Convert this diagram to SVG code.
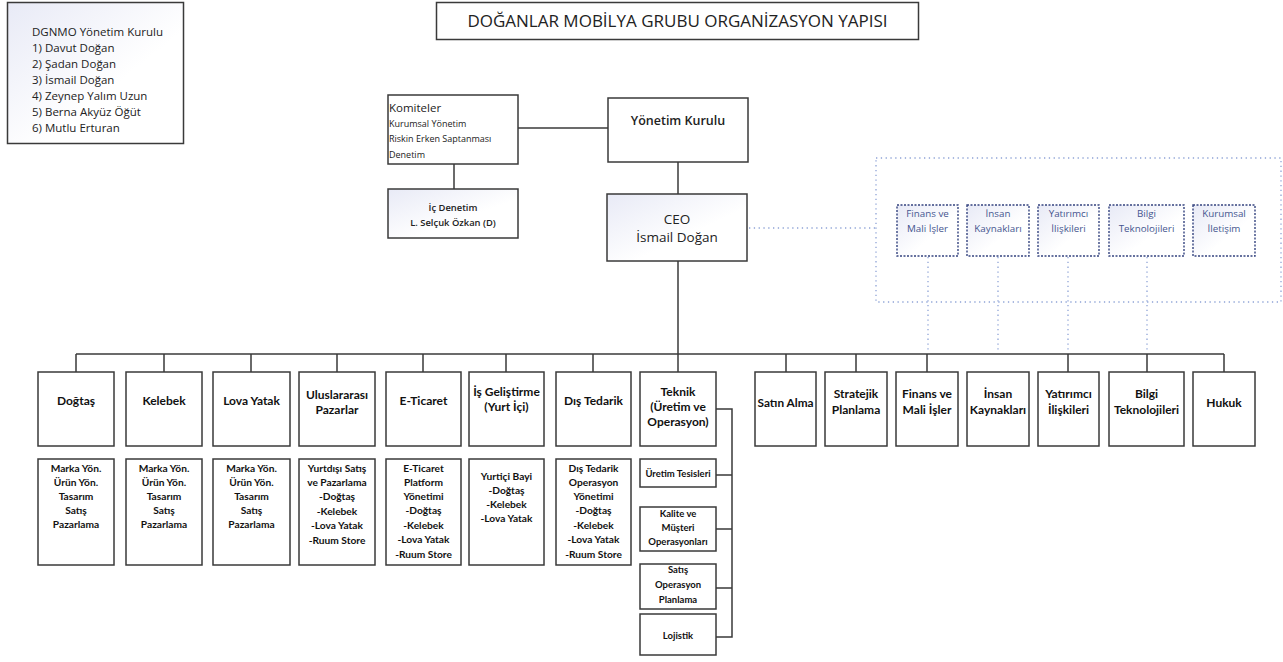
<svg xmlns="http://www.w3.org/2000/svg" width="1283" height="662" viewBox="0 0 1283 662">
<defs>
<linearGradient id="g" x1="0" y1="0" x2="1" y2="1">
<stop offset="0" stop-color="#e8eaf6"/>
<stop offset="0.6" stop-color="#ffffff"/>
</linearGradient>
<style>
.b{fill:#fff;stroke:#3a3a3a;stroke-width:1.5}
.bg{fill:url(#g);stroke:#3a3a3a;stroke-width:1.5}
.db{fill:url(#g);stroke:#34437f;stroke-width:1.4;stroke-dasharray:2 1.5}
.ln{stroke:#3a3a3a;stroke-width:1.5;fill:none}
.dl{stroke:#8ea3d6;stroke-width:1.3;fill:none;stroke-dasharray:1.3 3.5}
.s{font-family:"Open Sans","DejaVu Sans",sans-serif;fill:#222}
.c{font-family:Lato,"Liberation Sans",sans-serif;fill:#111;font-weight:bold;text-anchor:middle}
.m{text-anchor:middle}
.bl{font-family:"Open Sans","DejaVu Sans",sans-serif;fill:#45558f;font-size:9.8px;font-weight:500;text-anchor:middle}
</style>
</defs>
<rect width="1283" height="662" fill="#fff"/>

<g id="connectors">
<line class="ln" x1="518" y1="128" x2="608" y2="128"/>
<line class="ln" x1="454" y1="164" x2="454" y2="189"/>
<line class="ln" x1="678" y1="162" x2="678" y2="194"/>
<line class="ln" x1="678" y1="261" x2="678" y2="372"/>
<line class="ln" x1="76" y1="354" x2="1224" y2="354"/>
<path class="ln" d="M76 354V372M164 354V372M251 354V372M337 354V372M423 354V372M506 354V372M593 354V372M786 354V372M856 354V372M927 354V372M1068 354V372M1147 354V372M1224 354V372"/>
<path class="ln" d="M716 409H732V637H716M716 475H732M716 529H732M716 588H732"/>
<line class="dl" x1="749" y1="228" x2="876" y2="228"/>
<rect class="dl" x="876" y="158" width="405" height="144"/>
<path class="dl" d="M928 257V353M998 257V353M1068 257V353M1147 257V353"/>
</g>

<g id="board-list">
<rect class="bg" x="7.5" y="2.5" width="176" height="141"/>
<text class="s" font-size="11.5" x="32" y="36">DGNMO Yönetim Kurulu</text>
<text class="s" font-size="11.5" x="32" y="52">1) Davut Doğan</text>
<text class="s" font-size="11.5" x="32" y="68">2) Şadan Doğan</text>
<text class="s" font-size="11.5" x="32" y="84">3) İsmail Doğan</text>
<text class="s" font-size="11.5" x="32" y="100">4) Zeynep Yalım Uzun</text>
<text class="s" font-size="11.5" x="32" y="116">5) Berna Akyüz Öğüt</text>
<text class="s" font-size="11.5" x="32" y="132">6) Mutlu Erturan</text>
</g>

<g id="title">
<rect class="b" x="436.5" y="2.5" width="482" height="37"/>
<text class="s m" font-size="17" x="677.5" y="27">DOĞANLAR MOBİLYA GRUBU ORGANİZASYON YAPISI</text>
</g>

<g id="komiteler">
<rect class="b" x="388" y="95" width="130" height="69"/>
<text class="s" font-size="11.5" x="389" y="112">Komiteler</text>
<text class="s" font-size="9" x="389" y="127">Kurumsal Yönetim</text>
<text class="s" font-size="9" x="389" y="142">Riskin Erken Saptanması</text>
<text class="s" font-size="9" x="389" y="158">Denetim</text>
</g>

<g id="yonetim-kurulu">
<rect class="b" x="608" y="98" width="140" height="64"/>
<text class="s m" font-size="12.5" font-weight="600" x="678" y="125">Yönetim Kurulu</text>
</g>

<g id="ic-denetim">
<rect class="bg" x="388" y="189" width="130" height="49"/>
<text class="s m" font-size="9.4" font-weight="600" x="453" y="211">İç Denetim</text>
<text class="s m" font-size="9.4" font-weight="600" x="453" y="226">L. Selçuk Özkan (D)</text>
</g>

<g id="ceo">
<rect class="bg" x="607" y="194" width="140" height="67"/>
<text class="s m" font-size="13.5" font-weight="500" x="677" y="224">CEO</text>
<text class="s m" font-size="13.5" font-weight="500" x="677" y="242">İsmail Doğan</text>
</g>

<g id="staff-finans"><rect class="db" x="897" y="205" width="61" height="51"/><text class="bl" x="927.5" y="217">Finans ve</text><text class="bl" x="927.5" y="232">Mali İşler</text></g>
<g id="staff-ik"><rect class="db" x="967" y="205" width="62" height="51"/><text class="bl" x="998" y="217">İnsan</text><text class="bl" x="998" y="232">Kaynakları</text></g>
<g id="staff-yatirimci"><rect class="db" x="1038" y="205" width="61" height="51"/><text class="bl" x="1068.5" y="217">Yatırımcı</text><text class="bl" x="1068.5" y="232">İlişkileri</text></g>
<g id="staff-bilgi"><rect class="db" x="1109" y="205" width="75" height="51"/><text class="bl" x="1146.5" y="217">Bilgi</text><text class="bl" x="1146.5" y="232">Teknolojileri</text></g>
<g id="staff-iletisim"><rect class="db" x="1193" y="205" width="62" height="51"/><text class="bl" x="1224" y="217">Kurumsal</text><text class="bl" x="1224" y="232">İletişim</text></g>

<g id="dogtas">
<rect class="b" x="38" y="372" width="76" height="74"/>
<text class="c" font-size="12" x="76" y="405">Doğtaş</text>
<rect class="b" x="38" y="459" width="76" height="106"/>
<text class="c" font-size="10.2" x="76" y="472">Marka Yön.</text>
<text class="c" font-size="10.2" x="76" y="486">Ürün Yön.</text>
<text class="c" font-size="10.2" x="76" y="500">Tasarım</text>
<text class="c" font-size="10.2" x="76" y="514">Satış</text>
<text class="c" font-size="10.2" x="76" y="528">Pazarlama</text>
</g>
<g id="kelebek">
<rect class="b" x="126" y="372" width="76" height="74"/>
<text class="c" font-size="12" x="164" y="405">Kelebek</text>
<rect class="b" x="126" y="459" width="76" height="106"/>
<text class="c" font-size="10.2" x="164" y="472">Marka Yön.</text>
<text class="c" font-size="10.2" x="164" y="486">Ürün Yön.</text>
<text class="c" font-size="10.2" x="164" y="500">Tasarım</text>
<text class="c" font-size="10.2" x="164" y="514">Satış</text>
<text class="c" font-size="10.2" x="164" y="528">Pazarlama</text>
</g>
<g id="lova">
<rect class="b" x="213" y="372" width="77" height="74"/>
<text class="c" font-size="12" x="251.5" y="405">Lova Yatak</text>
<rect class="b" x="213" y="459" width="77" height="106"/>
<text class="c" font-size="10.2" x="251.5" y="472">Marka Yön.</text>
<text class="c" font-size="10.2" x="251.5" y="486">Ürün Yön.</text>
<text class="c" font-size="10.2" x="251.5" y="500">Tasarım</text>
<text class="c" font-size="10.2" x="251.5" y="514">Satış</text>
<text class="c" font-size="10.2" x="251.5" y="528">Pazarlama</text>
</g>
<g id="uluslararasi">
<rect class="b" x="299" y="372" width="76" height="74"/>
<text class="c" font-size="12" x="337" y="399">Uluslararası</text>
<text class="c" font-size="12" x="337" y="414">Pazarlar</text>
<rect class="b" x="299" y="459" width="76" height="106"/>
<text class="c" font-size="10.2" x="337" y="472">Yurtdışı Satış</text>
<text class="c" font-size="10.2" x="337" y="486">ve Pazarlama</text>
<text class="c" font-size="10.2" x="337" y="500">-Doğtaş</text>
<text class="c" font-size="10.2" x="337" y="515">-Kelebek</text>
<text class="c" font-size="10.2" x="337" y="529">-Lova Yatak</text>
<text class="c" font-size="10.2" x="337" y="544">-Ruum Store</text>
</g>
<g id="eticaret">
<rect class="b" x="386" y="372" width="75" height="74"/>
<text class="c" font-size="12" x="423.5" y="405">E-Ticaret</text>
<rect class="b" x="386" y="459" width="75" height="106"/>
<text class="c" font-size="10.2" x="423.5" y="472">E-Ticaret</text>
<text class="c" font-size="10.2" x="423.5" y="486">Platform</text>
<text class="c" font-size="10.2" x="423.5" y="500">Yönetimi</text>
<text class="c" font-size="10.2" x="423.5" y="514">-Doğtaş</text>
<text class="c" font-size="10.2" x="423.5" y="529">-Kelebek</text>
<text class="c" font-size="10.2" x="423.5" y="543">-Lova Yatak</text>
<text class="c" font-size="10.2" x="423.5" y="558">-Ruum Store</text>
</g>
<g id="is-gelistirme">
<rect class="b" x="469" y="372" width="75" height="74"/>
<text class="c" font-size="12" x="506.5" y="396">İş Geliştirme</text>
<text class="c" font-size="12" x="506.5" y="411">(Yurt İçi)</text>
<rect class="b" x="469" y="459" width="75" height="106"/>
<text class="c" font-size="10.2" x="506.5" y="480">Yurtiçi Bayi</text>
<text class="c" font-size="10.2" x="506.5" y="494">-Doğtaş</text>
<text class="c" font-size="10.2" x="506.5" y="508">-Kelebek</text>
<text class="c" font-size="10.2" x="506.5" y="522">-Lova Yatak</text>
</g>
<g id="dis-tedarik">
<rect class="b" x="556" y="372" width="75" height="74"/>
<text class="c" font-size="12" x="593.5" y="405">Dış Tedarik</text>
<rect class="b" x="556" y="459" width="75" height="106"/>
<text class="c" font-size="10.2" x="593.5" y="472">Dış Tedarik</text>
<text class="c" font-size="10.2" x="593.5" y="486">Operasyon</text>
<text class="c" font-size="10.2" x="593.5" y="500">Yönetimi</text>
<text class="c" font-size="10.2" x="593.5" y="514">-Doğtaş</text>
<text class="c" font-size="10.2" x="593.5" y="529">-Kelebek</text>
<text class="c" font-size="10.2" x="593.5" y="543">-Lova Yatak</text>
<text class="c" font-size="10.2" x="593.5" y="558">-Ruum Store</text>
</g>
<g id="teknik">
<rect class="b" x="640" y="372" width="76" height="74"/>
<text class="c" font-size="12" x="678" y="396">Teknik</text>
<text class="c" font-size="12" x="678" y="411">(Üretim ve</text>
<text class="c" font-size="12" x="678" y="426">Operasyon)</text>
</g>
<g id="uretim-tesisleri">
<rect class="b" x="640" y="459" width="76" height="28"/>
<text class="c" font-size="9.5" x="678" y="477">Üretim Tesisleri</text>
</g>
<g id="kalite">
<rect class="b" x="640" y="507" width="76" height="44"/>
<text class="c" font-size="9.5" x="678" y="517">Kalite ve</text>
<text class="c" font-size="9.5" x="678" y="531">Müşteri</text>
<text class="c" font-size="9.5" x="678" y="545">Operasyonları</text>
</g>
<g id="satis-operasyon">
<rect class="b" x="640" y="564" width="76" height="45"/>
<text class="c" font-size="9.5" x="678" y="573">Satış</text>
<text class="c" font-size="9.5" x="678" y="588">Operasyon</text>
<text class="c" font-size="9.5" x="678" y="603">Planlama</text>
</g>
<g id="lojistik">
<rect class="b" x="640" y="614" width="76" height="41"/>
<text class="c" font-size="9.5" x="678" y="639">Lojistik</text>
</g>
<g id="satin-alma">
<rect class="b" x="755" y="372" width="61" height="74"/>
<text class="c" font-size="11.8" x="785.5" y="407">Satın Alma</text>
</g>
<g id="stratejik">
<rect class="b" x="825" y="372" width="62" height="74"/>
<text class="c" font-size="12" x="856" y="398">Stratejik</text>
<text class="c" font-size="12" x="856" y="414">Planlama</text>
</g>
<g id="finans">
<rect class="b" x="896" y="372" width="62" height="74"/>
<text class="c" font-size="12" x="927" y="398">Finans ve</text>
<text class="c" font-size="12" x="927" y="414">Mali İşler</text>
</g>
<g id="insan-kaynaklari">
<rect class="b" x="967" y="372" width="62" height="74"/>
<text class="c" font-size="12" x="998" y="398">İnsan</text>
<text class="c" font-size="12" x="998" y="414">Kaynakları</text>
</g>
<g id="yatirimci">
<rect class="b" x="1038" y="372" width="61" height="74"/>
<text class="c" font-size="12" x="1068.5" y="398">Yatırımcı</text>
<text class="c" font-size="12" x="1068.5" y="414">İlişkileri</text>
</g>
<g id="bilgi">
<rect class="b" x="1109" y="372" width="75" height="74"/>
<text class="c" font-size="12" x="1146.5" y="398">Bilgi</text>
<text class="c" font-size="12" x="1146.5" y="414">Teknolojileri</text>
</g>
<g id="hukuk">
<rect class="b" x="1193" y="372" width="62" height="74"/>
<text class="c" font-size="12" x="1224" y="407">Hukuk</text>
</g>
</svg>
